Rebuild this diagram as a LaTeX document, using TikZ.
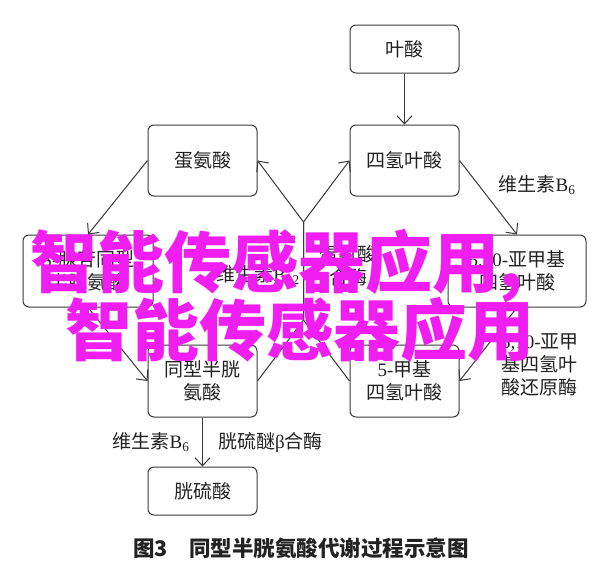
\documentclass[tikz,border=0pt]{standalone}
\usepackage{fontspec}
\setmainfont{Liberation Serif}
\newfontfamily\cjk{Noto Sans CJK SC}
\usetikzlibrary{arrows.meta}
\definecolor{ln}{HTML}{3A3A3A}
\definecolor{tx}{HTML}{222222}
\definecolor{wm}{RGB}{240,30,240}
\tikzset{
  box/.style={draw=ln, line width=1pt, rounded corners=6pt, align=center,
    text=tx, inner sep=0pt, font=\cjk\fontsize{19}{23}\selectfont},
  lbl/.style={text=tx, inner sep=0pt, font=\cjk\fontsize{19}{23}\selectfont},
  arr/.style={draw=ln, line width=1pt, -{Straight Barb[length=8pt,width=15pt]}},
  plain/.style={draw=ln, line width=1pt},
  wmk/.style={text=wm, inner sep=0pt, anchor=base west, font=\cjk\bfseries\fontsize{67}{67}\selectfont}
}
\newcommand{\lat}[1]{{\rmfamily #1}}
\begin{document}
\begin{tikzpicture}[x=1pt, y=-1pt]
\useasboundingbox (0,0) rectangle (600,574);
\fill[white] (0,0) rectangle (600,574);
% boxes
\node[box, minimum width=109, minimum height=48] (ys) at (404.5,49) {叶酸};
\node[box, minimum width=109, minimum height=71] (thf) at (404.5,160.5) {四氢叶酸};
\node[box, minimum width=109, minimum height=71] (met) at (202.5,160.5) {蛋氨酸};
\node[box, minimum width=130, minimum height=72] (sah) at (88,271) {\lat{S-}腺苷同型\\半胱氨酸};
\node[box, minimum width=138, minimum height=72] (mth) at (517,271) {\lat{5,10-}亚甲基\\四氢叶酸};
\node[box, minimum width=109, minimum height=72] (hcy) at (202.5,381) {同型半胱\\氨酸};
\node[box, minimum width=109, minimum height=72] (m5) at (404.5,381) {\lat{5-}甲基\\四氢叶酸};
\node[box, minimum width=109, minimum height=48] (cys) at (202.5,491) {胱硫酸};
% junction points
\coordinate (c1) at (303.5,222);
\coordinate (c2) at (303.5,320);
% connectors
\draw[arr] (ys) -- (thf);
\draw[arr] (met.west) -- (sah.north);
\draw[arr] (sah.south) -- (hcy.west);
\draw[arr] (thf.east) -- (mth.north);
\draw[arr] (mth.south) -- (m5.east);
\draw[arr] (hcy.east) -- (c2) -- (c1) -- (met.east);
\draw[arr] (m5.west) -- (c2) -- (c1) -- (thf.west);
\draw[arr] (hcy) -- (cys);
% labels
\node[lbl] (l1) at (537,185) {维生素\lat{B\textsubscript{6}}};
\node[lbl, anchor=west, align=left] (l2) at (501,365) {\lat{5,10-}亚甲\\基四氢叶\\酸还原酶};
\node[lbl, anchor=east] (l3) at (300,275) {维生素\lat{B\textsubscript{12}}};
\node[lbl, align=center] (l4) at (348,266) {蛋氨酸\\合酶};
\node[lbl] (l5) at (151,442) {维生素\lat{B\textsubscript{6}}};
\node[lbl, anchor=west] (l6) at (218,442) {胱硫醚\lat{β}合酶};
% caption
\node[text=tx, inner sep=0pt, anchor=west, font=\cjk\bfseries\fontsize{21.5}{24}\selectfont] (cap) at (133,548) {图3　同型半胱氨酸代谢过程示意图};
% watermark
\node[wmk] (w1) at (30,287) {智能传感器应用,};
\node[wmk] (w2) at (65,355) {智能传感器应用};
\end{tikzpicture}
\end{document}
